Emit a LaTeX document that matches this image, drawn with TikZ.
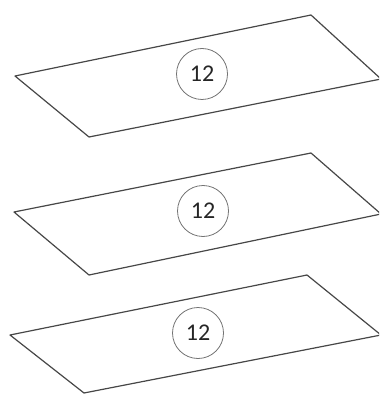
\documentclass[tikz,border=0pt]{standalone}
\usepackage{fontspec}
\setmainfont{Carlito}
\begin{document}
\begin{tikzpicture}[x=1pt,y=-1pt,
  sheet/.style={draw=black!72,line width=1.2pt,line join=round},
  tag/.style={circle,draw=black!55,line width=0.8pt,minimum size=51pt,inner sep=0pt,font=\fontsize{24}{24}\selectfont,text=black!85}]
\useasboundingbox (0,0) rectangle (379,395);
\begin{scope}
\clip (0,0) rectangle (379,395);
% sheet 1
\coordinate (a1) at (15,76);
\coordinate (b1) at (311,15);
\coordinate (c1) at (381,79);
\coordinate (d1) at (89,137);
\draw[sheet] (a1) -- (b1) -- (c1) -- (d1) -- cycle;
\node[tag] (n1) at (202,74) {12};
% sheet 2
\coordinate (a2) at (14,212);
\coordinate (b2) at (311,153);
\coordinate (c2) at (381,214);
\coordinate (d2) at (89,275);
\draw[sheet] (a2) -- (b2) -- (c2) -- (d2) -- cycle;
\node[tag] (n2) at (203,211) {12};
% sheet 3
\coordinate (a3) at (10,335);
\coordinate (b3) at (307,275);
\coordinate (c3) at (381,335);
\coordinate (d3) at (84,393);
\draw[sheet] (a3) -- (b3) -- (c3) -- (d3) -- cycle;
\node[tag] (n3) at (198,333) {12};
\end{scope}
\end{tikzpicture}
\end{document}
